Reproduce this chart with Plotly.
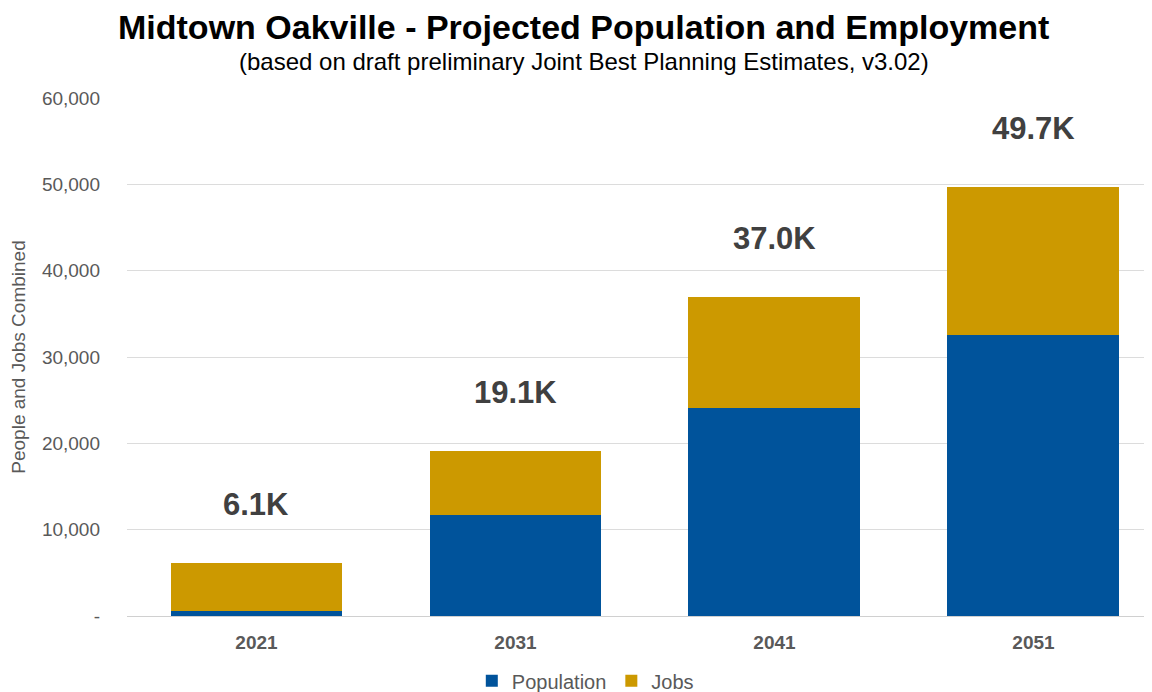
import plotly.graph_objects as go

years = ["2021", "2031", "2041", "2051"]
population = [600, 11700, 24100, 32500]
jobs = [5500, 7400, 12900, 17200]
total_labels = ["6.1K", "19.1K", "37.0K", "49.7K"]
y_tickvals = [0, 10000, 20000, 30000, 40000, 50000, 60000]
y_ticktext = ["-", "10,000", "20,000", "30,000", "40,000", "50,000", "60,000"]

totals = [p + j for p, j in zip(population, jobs)]

FONT = "Liberation Sans, Arial, sans-serif"
GRAY = "#595959"

fig = go.Figure()
fig.add_trace(go.Bar(name="Population", x=years, y=population,
                     marker=dict(color="#00539B", line=dict(width=0))))
fig.add_trace(go.Bar(name="Jobs", x=years, y=jobs,
                     marker=dict(color="#CC9900", line=dict(width=0))))

for i, (tot, lab) in enumerate(zip(totals, total_labels)):
    fig.add_annotation(x=i, y=tot, xref="x", yref="y", text=f"<b>{lab}</b>",
                       showarrow=False, xanchor="center", yanchor="bottom", yshift=39,
                       font=dict(family=FONT, size=31, color="#404040"))

fig.add_annotation(xref="paper", yref="paper", x=0.4467, y=1.137,
                   text="<b>Midtown Oakville - Projected Population and Employment</b>",
                   showarrow=False, xanchor="center", yanchor="middle",
                   font=dict(family=FONT, size=34, color="#000000"))
fig.add_annotation(xref="paper", yref="paper", x=0.4467, y=1.0695,
                   text="(based on draft preliminary Joint Best Planning Estimates, v3.02)",
                   showarrow=False, xanchor="center", yanchor="middle",
                   font=dict(family=FONT, size=24, color="#000000"))

# page body adds an 8px offset, so the figure is sized/positioned to compensate
fig.update_layout(
    barmode="stack",
    bargap=0.336,
    width=1144, height=684,
    margin=dict(l=119, r=2, t=90, b=76, autoexpand=False),
    plot_bgcolor="white", paper_bgcolor="white",
    font=dict(family=FONT, color=GRAY),
    showlegend=True,
    legend=dict(orientation="h", x=0.448, xanchor="center", y=-0.125, yanchor="middle",
                font=dict(family=FONT, size=20, color=GRAY), traceorder="normal",
                itemwidth=30),
    xaxis=dict(type="category", range=[-0.5, 3.45], showgrid=False, showline=False,
               ticks="", automargin=False, ticklabelstandoff=13,
               tickfont=dict(family=FONT, size=19, color=GRAY, weight="bold")),
    yaxis=dict(range=[0, 60000], tickvals=y_tickvals, ticktext=y_ticktext,
               showgrid=True, gridcolor="#dcdcdc", gridwidth=1,
               zeroline=True, zerolinecolor="#d0d0d0", zerolinewidth=1,
               showline=False, ticks="", ticklabelstandoff=26, automargin=False,
               tickfont=dict(family=FONT, size=19, color=GRAY),
               title=dict(text="People and Jobs Combined", standoff=12,
                          font=dict(family=FONT, size=19, color=GRAY))),
)

fig.write_html("out.html")
